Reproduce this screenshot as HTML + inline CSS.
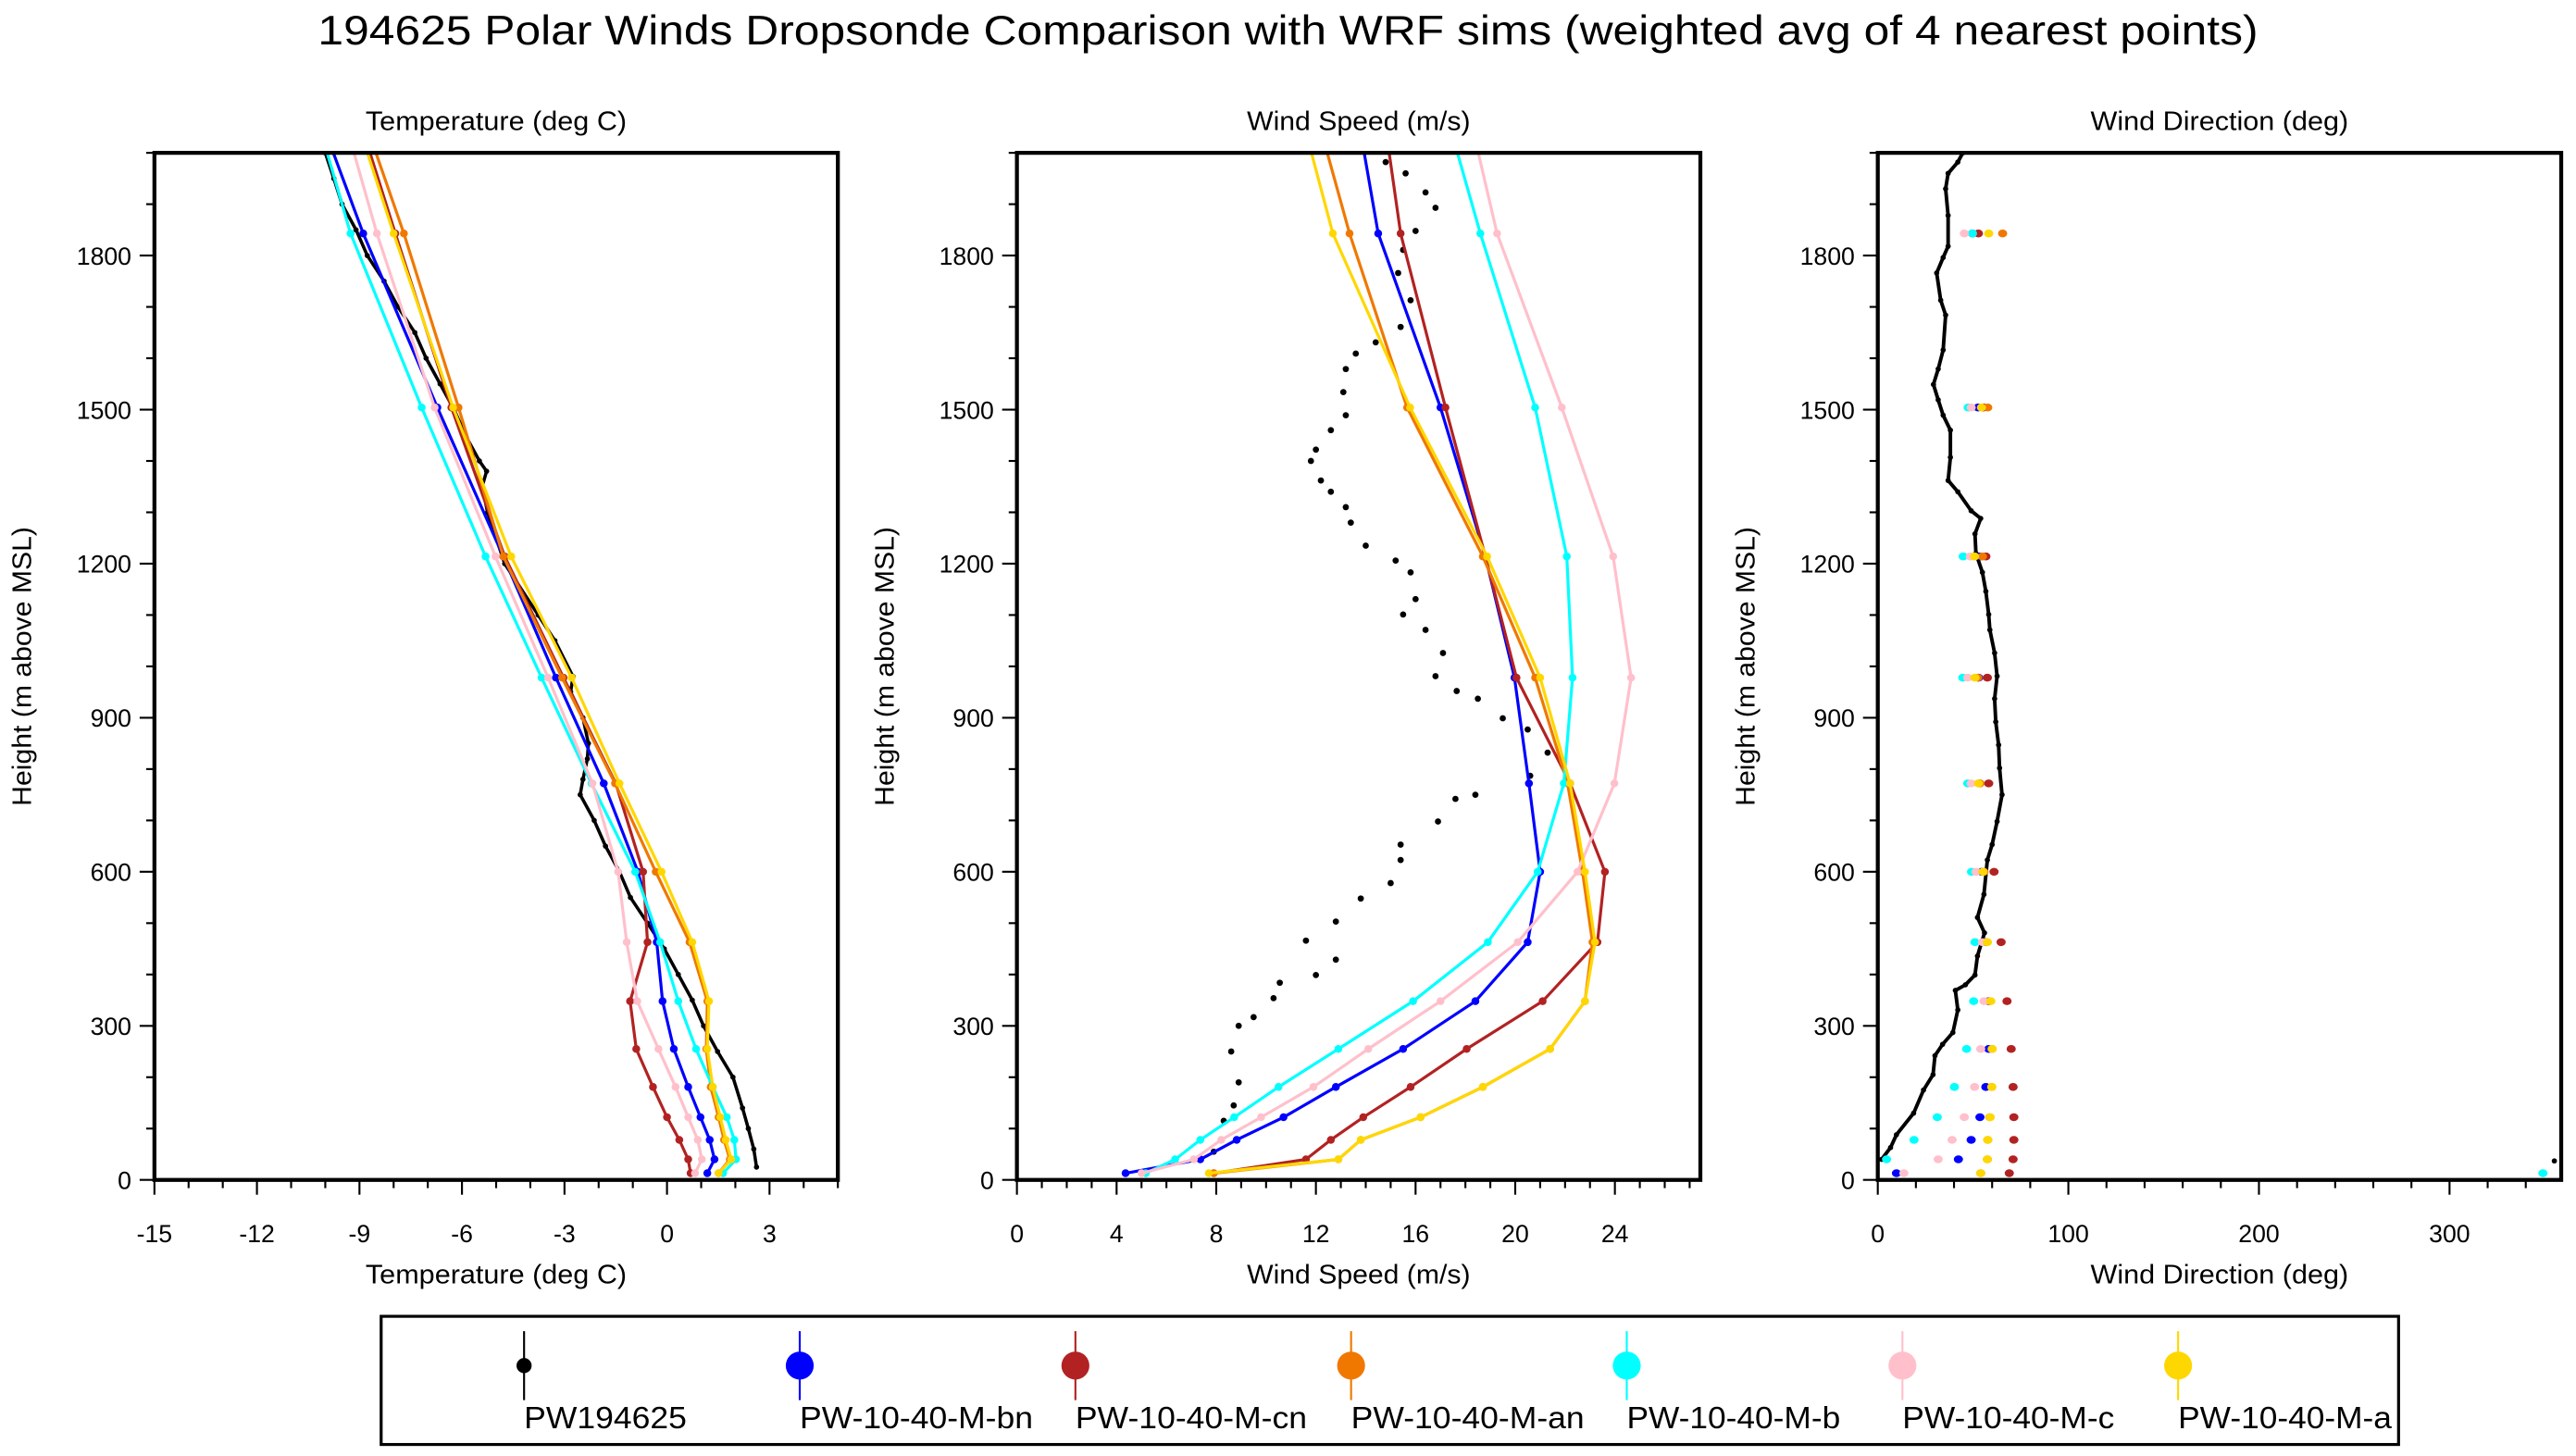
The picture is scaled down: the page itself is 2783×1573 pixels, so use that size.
<!DOCTYPE html>
<html><head><meta charset="utf-8"><style>
html,body{margin:0;padding:0;background:#fff;}
svg{display:block;font-family:"Liberation Sans",sans-serif;}
</style></head><body>
<svg id="chart" xmlns="http://www.w3.org/2000/svg" width="2783" height="1573" viewBox="0 0 1568 886" preserveAspectRatio="none">
<rect x="0" y="0" width="1568" height="886" fill="#fff"/>
<text x="784" y="27" font-size="25" text-anchor="middle" textLength="1181" lengthAdjust="spacingAndGlyphs">194625 Polar Winds Dropsonde Comparison with WRF sims (weighted avg of 4 nearest points)</text>
<g id="plots"></g>
<g id="legend">
<rect x="232" y="801" width="1228" height="78" fill="none" stroke="#000" stroke-width="1.8"/>
</g>
</svg>
<script>
const levels = [13,40,78,122,181,255,348,463,600,772,978,1214,1504,1843,2150];
const seriesNames = ["PW-10-40-M-bn","PW-10-40-M-cn","PW-10-40-M-an","PW-10-40-M-b","PW-10-40-M-c","PW-10-40-M-a"];
const seriesColors = ["#0000ff","#b22222","#f07800","#00ffff","#ffc0cb","#ffd700"];
const tempBn = [1.18,1.39,1.25,0.98,0.62,0.2,-0.13,-0.3,-0.85,-1.85,-3.25,-4.79,-6.72,-8.89,-10.6];
const tempCn = [0.69,0.62,0.36,0.0,-0.41,-0.9,-1.08,-0.57,-0.7,-1.5,-3.03,-4.75,-6.31,-7.95,-9.4];
const tempAn = [1.51,1.84,1.67,1.51,1.28,1.15,1.18,0.66,-0.33,-1.52,-3.07,-4.79,-6.1,-7.7,-9.3];
const tempB  = [1.64,2.02,1.97,1.75,1.34,0.85,0.33,-0.2,-0.93,-2.21,-3.67,-5.31,-7.18,-9.26,-10.6];
const tempC  = [0.82,1.02,0.9,0.62,0.25,-0.25,-0.87,-1.18,-1.43,-2.18,-3.48,-5.02,-6.8,-8.49,-9.8];
const tempA  = [1.51,1.88,1.72,1.56,1.34,1.18,1.23,0.74,-0.16,-1.39,-2.79,-4.56,-6.26,-8.0,-9.5];
const spdBn = [4.36,7.36,8.82,10.7,12.8,15.5,18.4,20.5,21.0,20.55,19.97,18.8,17.0,14.5,13.4];
const spdCn = [7.9,11.6,12.6,13.9,15.8,18.05,21.1,23.3,23.6,22.2,20.05,18.8,17.2,15.4,14.5];
const spdAn = [7.9,12.9,13.8,16.2,18.7,21.4,22.8,23.1,22.7,22.1,20.8,18.7,15.66,13.35,11.6];
const spdB  = [5.17,6.35,7.36,8.72,10.5,12.9,15.9,18.9,20.9,21.95,22.3,22.07,20.8,18.6,16.8];
const spdC  = [5.0,7.1,8.2,9.8,11.9,14.1,17.0,20.1,22.5,23.98,24.65,23.93,21.87,19.27,17.8];
const spdA  = [7.7,12.9,13.8,16.2,18.7,21.4,22.8,23.2,22.8,22.2,21.0,18.87,15.78,12.68,11.0];
const dirBn = [9.8,42.3,49,53.6,56.7,58.2,58.3,56.8,54.6,53.3,52.9,53.6,52.6,49.7];
const dirCn = [69,71,71.4,71.4,71,70,67.8,64.7,61,58.2,57.5,56.7,55.5,52.8];
const dirAn = [54,57.5,57.7,58.8,59.8,60,58.8,56.8,55.7,53.6,52.5,54.9,57.7,65.5];
const dirB  = [349,4.6,19,31.2,40.2,46.6,50.3,51,49.2,47.2,44.6,44.8,47.4,49.7];
const dirC  = [13.7,31.7,39,45.4,50.8,54,55.7,54.9,51.5,49,47.2,48.5,49,45.4];
const dirA  = [54,57.5,57.7,59,59.8,60,59.3,57.5,55.2,52.8,51,50.8,54.4,58.2];
const obsTempT = [2.62,2.54,2.38,2.21,1.93,1.48,1.07,0.74,0.33,-0.08,-0.57,-1.07,-1.39,-1.8,-2.13,-2.54,-2.46,-2.33,-2.3,-2.46,-2.82,-2.75,-3.28,-3.77,-4.75,-5.25,-5.41,-5.28,-5.49,-5.9,-6.23,-6.64,-7.05,-7.38,-7.87,-8.28,-8.77,-9.1,-9.51,-9.75,-10.0];
const obsTempH = [25,60,100,140,200,250,300,350,400,450,500,550,600,650,700,750,780,820,850,900,950,980,1050,1100,1200,1300,1350,1380,1400,1450,1500,1550,1600,1650,1700,1750,1800,1850,1900,1950,2000];
const obsSpdS = [7.9,8.3,8.7,8.9,8.6,8.9,9.5,10.3,10.55,12.0,12.8,11.6,12.8,13.8,15.0,15.4,15.4,16.9,17.6,18.4,20.6,21.3,20.5,19.5,18.5,17.65,16.8,17.1,16.4,15.5,16.0,15.8,15.2,14.0,13.4,13.2,12.6,12.2,11.8,12.0,12.6,13.2,13.1,13.2,13.6,14.4,15.4,15.8,15.3,15.5,16.0,16.8,16.4,15.6,14.8];
const obsSpdH = [55,115,145,190,250,300,317,354,384,399,429,466,503,548,578,623,653,698,742,750,787,832,877,899,937,952,981,1026,1071,1101,1131,1183,1206,1235,1280,1310,1340,1362,1400,1422,1460,1489,1534,1579,1609,1631,1661,1713,1766,1811,1848,1893,1923,1960,1982];
const obsDirD = [2,6.7,9.8,18.8,24,29,30,34,39.4,42,40.7,46,51,52.3,56,52.3,55.7,57.5,60,62.6,65.2,63.9,63.4,61.9,61.3,62.6,61.3,58.8,58.2,56.7,54.9,51.5,51,54,49,42,36.9,38.1,38.1,34.3,31.7,29.2,31.7,34.3,35.6,33,30.9,34.3,36.9,36.9,35.6,36.9,42,44.6];
const obsDirH = [40,63,88,130,175,205,242,264,287,331,369,380,399,436,481,511,556,623,653,698,750,802,847,892,937,981,1026,1071,1101,1146,1183,1220,1258,1288,1303,1340,1362,1407,1460,1489,1519,1549,1579,1616,1684,1713,1766,1796,1818,1878,1930,1960,1982,2000];
const obsDirExtraD = [355];
const obsDirExtraH = [37];
const yTicks = [0,300,600,900,1200,1500,1800];
const tempTicks = [-15,-12,-9,-6,-3,0,3];
const spdTicks = [0,4,8,12,16,20,24];
const dirTicks = [0,100,200,300];

const NS = "http://www.w3.org/2000/svg";
const plots = document.getElementById('plots');
function mk(tag, attrs, parent){const e=document.createElementNS(NS,tag);for(const k in attrs)e.setAttribute(k,attrs[k]);(parent||plots).appendChild(e);return e;}
const Y0=718, Y1=93, HMAX=2000;
function yScale(h){return Y0-(h/HMAX)*(Y0-Y1);}

function panel(idx, x0, x1, xmin, xmax, xticks, minorStep, title, titleLen, series, obsX, obsY, mode, extraX, extraY){
  const g = mk('g',{});
  
  
  const xs = v => x0 + (v-xmin)/(xmax-xmin)*(x1-x0);
  const cx = (x0+x1)/2;
  const cid='clip'+idx;
  const cp = mk('clipPath',{id:cid},g); mk('rect',{x:x0,y:Y1,width:x1-x0,height:Y0-Y1},cp);
  const st = mk('text',{x:cx,y:79,'font-size':16,'text-anchor':'middle',textLength:titleLen,lengthAdjust:'spacingAndGlyphs'},g);
  st.textContent=title;
  
  
  const xt = mk('text',{x:cx,y:781,'font-size':16,'text-anchor':'middle',textLength:titleLen,lengthAdjust:'spacingAndGlyphs'},g);
  xt.textContent=title;
  
  
  const ytl = mk('text',{x:0,y:0,'font-size':16,'text-anchor':'middle',textLength:170,lengthAdjust:'spacingAndGlyphs',transform:`translate(${x0-75},${(Y0+Y1)/2}) rotate(-90)`},g);
  ytl.textContent='Height (m above MSL)';
  
  
  for(let h=0;h<=HMAX;h+=100){
    const major = h%300===0;
    const t=mk('line',{x1:x0-(major?9:5),x2:x0,y1:yScale(h),y2:yScale(h),stroke:'#000','stroke-width':1.2},g);
    
    
  }
  yTicks.forEach(h=>{const t=mk('text',{x:x0-14,y:yScale(h)+5.5,'font-size':15,'text-anchor':'end'},g);t.textContent=h;
    
    });
  for(let v=xmin; v<=xmax+1e-6; v+=minorStep){
    const major = xticks.some(t=>Math.abs(t-v)<1e-6);
    const t=mk('line',{x1:xs(v),x2:xs(v),y1:Y0,y2:Y0+(major?9:5),stroke:'#000','stroke-width':1.2},g);
    
    
  }
  xticks.forEach(v=>{const t=mk('text',{x:xs(v),y:Y0+38,'font-size':15,'text-anchor':'middle'},g);t.textContent=v;
    
    });
  const dg = mk('g',{'clip-path':`url(#${cid})`},g);
  const og = mk('g',{},dg);
  
  
  const pts = obsX.map((v,i)=>xs(v)+','+yScale(obsY[i])).join(' ');
  if(mode==='temp'){const pl=mk('polyline',{points:pts,fill:'none',stroke:'#000','stroke-width':2},og);
    }
  if(mode==='dir'){const pl=mk('polyline',{points:pts,fill:'none',stroke:'#000','stroke-width':2.2},og);
    }
  obsX.forEach((v,i)=>{const c=mk('circle',{cx:xs(v),cy:yScale(obsY[i]),r:mode==='spd'?1.9:1.6,fill:'#000'},og);
    });
  if(extraX) extraX.forEach((v,i)=>{const c=mk('circle',{cx:xs(v),cy:yScale(extraY[i]),r:1.6,fill:'#000'},og);
    });
  series.forEach((arr,si)=>{
    const sg = mk('g',{},dg);
    
    
    if(mode!=='dir'){
      const p = arr.map((v,i)=>xs(v)+','+yScale(levels[i])).join(' ');
      const pl=mk('polyline',{points:p,fill:'none',stroke:seriesColors[si],'stroke-width':1.8},sg);
      
    }
    arr.forEach((v,i)=>{ if(levels[i]>HMAX) return;
      const c=mk('ellipse',{cx:xs(v),cy:yScale(levels[i]),rx:mode==='dir'?2.8:2.4,ry:2.4,fill:seriesColors[si]},sg);
      });
  });
  const fr = mk('rect',{x:x0,y:Y1,width:x1-x0,height:Y0-Y1,fill:'none',stroke:'#000','stroke-width':2.4},g);
  
  
}
panel(1,94,510,-15,5,tempTicks,1,'Temperature (deg C)',159,[tempBn,tempCn,tempAn,tempB,tempC,tempA],obsTempT,obsTempH,'temp');
panel(2,619,1035,0,27.43,spdTicks,1,'Wind Speed (m/s)',136,[spdBn,spdCn,spdAn,spdB,spdC,spdA],obsSpdS,obsSpdH,'spd');
panel(3,1143,1559,0,358.6,dirTicks,20,'Wind Direction (deg)',157,[dirBn,dirCn,dirAn,dirB,dirC,dirA],obsDirD,obsDirH,'dir',obsDirExtraD,obsDirExtraH);

const legend = document.getElementById('legend');
const legNames = ["PW194625"].concat(seriesNames);
const legColors = ["#000"].concat(seriesColors);
const legLens = [99,142,141,142,130,129,130];
legNames.forEach((n,i)=>{
  const x = 319 + i*167.8;
  const g = mk('g',{},legend);
  
  
  mk('line',{x1:x,x2:x,y1:810,y2:852,stroke:legColors[i],'stroke-width':1.2},g);
  mk('circle',{cx:x,cy:831,r:i===0?4.6:8.5,fill:legColors[i]},g);
  const t = mk('text',{x:x,y:869,'font-size':19,textLength:legLens[i],lengthAdjust:'spacingAndGlyphs'},g);
  t.textContent=n;
  
  
});
</script>
</body></html>
